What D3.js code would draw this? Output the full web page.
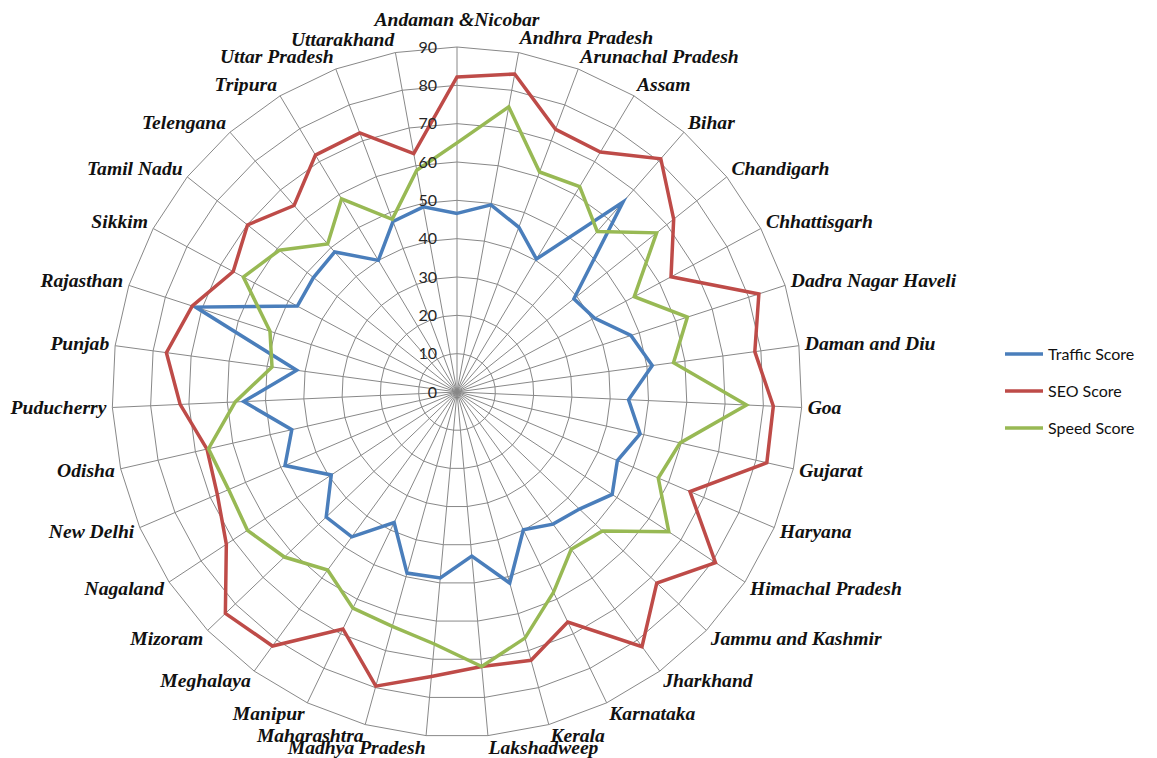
<!DOCTYPE HTML>
<html>

<head>
    <meta charset="utf-8">
    <title>Website Scores by State</title>
    <script src="https://d3js.org/d3.v7.min.js"></script>

    <style>
        body {
            margin: 0;
            background: white;
        }

        .grid {
            fill: none;
            stroke: #888888;
            stroke-width: 1;
        }

        .series {
            fill: none;
            stroke-width: 3.5;
            stroke-linejoin: miter;
        }

        .tick_label {
            font: 16px Lato, 'Open Sans', sans-serif;
            fill: #262626;
        }

        .cat_label {
            font-family: 'Liberation Serif', 'DejaVu Serif', serif;
            font-style: italic;
            font-weight: bold;
            font-size: 19.6px;
            fill: #111;
        }

        .legend_label {
            font: 16px Lato, 'Open Sans', sans-serif;
            fill: #111;
        }
    </style>
</head>

<body>
    <div id="chart"></div>

<script>
    // Data
    var categories = ["Andaman &Nicobar", "Andhra Pradesh", "Arunachal Pradesh", "Assam", "Bihar",
        "Chandigarh", "Chhattisgarh", "Dadra Nagar Haveli", "Daman and Diu", "Goa", "Gujarat",
        "Haryana", "Himachal Pradesh", "Jammu and Kashmir", "Jharkhand", "Karnataka", "Kerala",
        "Lakshadweep", "Madhya Pradesh", "Maharashtra", "Manipur", "Meghalaya", "Mizoram",
        "Nagaland", "New Delhi", "Odisha", "Puducherry", "Punjab", "Rajasthan", "Sikkim",
        "Tamil Nadu", "Telengana", "Tripura", "Uttar Pradesh", "Uttarakhand"];

    var trafficScore = [46.6, 49.6, 45.9, 40.4, 65.8, 39, 40.7, 47.7, 51.4, 44.8, 49, 45.5, 48.5,
        44.2, 42.6, 39.9, 51.7, 43, 48.7, 49, 37.8, 46.7, 47.2, 39.3, 48.8, 44.2, 55.7, 42.2,
        71.7, 47.3, 47.9, 48.5, 40, 47.5, 49.1];

    var seoScore = [82.2, 84.3, 73.2, 72.9, 80.8, 72.3, 63.4, 82.8, 78.4, 82.6, 82.9, 66.1, 80.8,
        72.1, 82.1, 66.6, 72.6, 71.9, 74.5, 79.6, 68.6, 81.9, 83.6, 72.1, 68, 66.9, 72.3, 76.5,
        72.6, 66.3, 69.9, 64.6, 72, 72.2, 63.2];

    var speedScore = [65, 75.6, 61.3, 62.4, 55.6, 66.6, 52.5, 63.2, 57, 75.6, 59.7, 57.1, 66.2,
        52.5, 50.7, 58, 66.6, 71.9, 66, 63.4, 62.6, 57.4, 62.3, 65.5, 64.8, 66.5, 57.9, 48.7,
        51.3, 63.3, 59.3, 51.3, 58.7, 48.1, 58.8];

    var ticks = [0, 10, 20, 30, 40, 50, 60, 70, 80, 90];

    var seriesNames = ["Traffic Score", "SEO Score", "Speed Score"];
    var seriesColors = ["#4a7ebb", "#be4b48", "#98b954"];
    var seriesValues = [trafficScore, seoScore, speedScore];

    // Layout
    var outerWidth = 1157;
    var outerHeight = 758;
    var cx = 457;
    var cy = 392;
    var radius = 345;
    var labelPad = 6;

    var svg = d3.select("#chart").append("svg")
        .attr("width", outerWidth)
        .attr("height", outerHeight);

    var n = categories.length;

    var angle = d3.scaleLinear()
        .domain([0, n])
        .range([0, 2 * Math.PI]);

    var r = d3.scaleLinear()
        .domain([0, d3.max(ticks)])
        .range([0, radius]);

    var g = svg.append("g")
        .attr("transform", "translate(" + cx + "," + cy + ")");

    // grid rings (polygons)
    var ring = d3.lineRadial()
        .angle(function(d, i) { return angle(i); })
        .curve(d3.curveLinearClosed);

    g.selectAll(".ring")
        .data(ticks.filter(function(t) { return t > 0; }))
        .enter()
        .append("path")
        .attr("class", "grid ring")
        .attr("d", function(t) {
            return ring.radius(r(t))(categories);
        });

    // spokes
    g.selectAll(".spoke")
        .data(categories)
        .enter()
        .append("line")
        .attr("class", "grid spoke")
        .attr("x1", 0)
        .attr("y1", 0)
        .attr("x2", function(d, i) { return r(d3.max(ticks)) * Math.sin(angle(i)); })
        .attr("y2", function(d, i) { return -r(d3.max(ticks)) * Math.cos(angle(i)); });

    // series
    var line = d3.lineRadial()
        .angle(function(d, i) { return angle(i); })
        .radius(function(d) { return r(d); })
        .curve(d3.curveLinearClosed);

    g.selectAll(".series")
        .data(seriesValues)
        .enter()
        .append("path")
        .attr("class", "series")
        .attr("stroke", function(d, i) { return seriesColors[i]; })
        .attr("d", function(d) { return line(d); });

    // value labels along the top spoke
    g.selectAll(".tick_label")
        .data(ticks)
        .enter()
        .append("text")
        .attr("class", "tick_label")
        .attr("x", -20)
        .attr("y", function(t) { return -r(t); })
        .attr("dy", "0.35em")
        .attr("text-anchor", "end")
        .text(function(t) { return t; });

    // category labels
    g.selectAll(".cat_label")
        .data(categories)
        .enter()
        .append("text")
        .attr("class", "cat_label")
        .attr("x", function(d, i) { return (radius + labelPad) * Math.sin(angle(i)); })
        .attr("y", function(d, i) {
            var c = Math.cos(angle(i));
            var y = -(radius + labelPad) * c - 6.5 * c - 0.5;
            if (i === 0) y -= 14;
            if (i === 1) y -= 2.5;
            return y;
        })
        .attr("dy", "0.32em")
        .attr("text-anchor", function(d, i) {
            var s = Math.sin(angle(i));
            if (s > 0.01) return "start";
            if (s < -0.01) return "end";
            return "middle";
        })
        .text(function(d) { return d; });

    // legend
    var legend = svg.append("g")
        .attr("transform", "translate(1005,354)");

    var item = legend.selectAll(".legend_item")
        .data(seriesNames)
        .enter()
        .append("g")
        .attr("class", "legend_item")
        .attr("transform", function(d, i) { return "translate(0," + i * 37 + ")"; });

    item.append("line")
        .attr("x1", 0)
        .attr("x2", 38)
        .attr("y1", 0)
        .attr("y2", 0)
        .attr("stroke", function(d, i) { return seriesColors[i]; })
        .attr("stroke-width", 3.5);

    item.append("text")
        .attr("class", "legend_label")
        .attr("x", 43)
        .attr("y", 0)
        .attr("dy", "0.35em")
        .text(function(d) { return d; });
</script>

</body>

</html>
